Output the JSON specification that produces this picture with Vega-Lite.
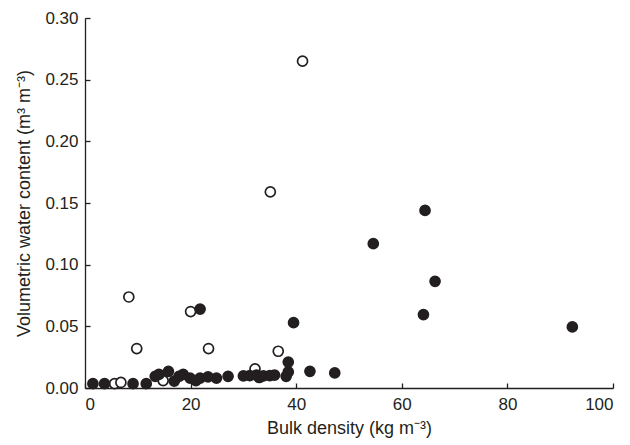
{
  "$schema": "https://vega.github.io/schema/vega-lite/v6.json",
  "autosize": {"type": "none"},
  "width": 528,
  "height": 370,
  "padding": {"left": 85, "top": 18, "right": 17, "bottom": 57},
  "background": "white",
  "config": {
    "view": {"stroke": null},
    "font": "Liberation Sans",
    "axis": {
      "grid": false,
      "domainColor": "#231f20",
      "domainWidth": 1.3,
      "tickColor": "#231f20",
      "tickWidth": 1.3,
      "tickSize": -5,
      "labelFont": "Liberation Sans",
      "labelFontSize": 17,
      "labelColor": "#231f20",
      "titleFont": "Liberation Sans",
      "titleFontSize": 18,
      "titleFontWeight": "normal",
      "titleColor": "#231f20"
    }
  },
  "data": {
    "values": [
      {"density": 1.5, "water": 0.0035, "group": "filled"},
      {"density": 3.7, "water": 0.0035, "group": "filled"},
      {"density": 9.1, "water": 0.0035, "group": "filled"},
      {"density": 11.6, "water": 0.0035, "group": "filled"},
      {"density": 13.3, "water": 0.0095, "group": "filled"},
      {"density": 14.0, "water": 0.011, "group": "filled"},
      {"density": 15.8, "water": 0.0135, "group": "filled"},
      {"density": 16.9, "water": 0.0055, "group": "filled"},
      {"density": 17.8, "water": 0.0095, "group": "filled"},
      {"density": 18.6, "water": 0.011, "group": "filled"},
      {"density": 19.9, "water": 0.008, "group": "filled"},
      {"density": 21.0, "water": 0.006, "group": "filled"},
      {"density": 21.8, "water": 0.008, "group": "filled"},
      {"density": 23.3, "water": 0.009, "group": "filled"},
      {"density": 24.9, "water": 0.008, "group": "filled"},
      {"density": 27.1, "water": 0.0095, "group": "filled"},
      {"density": 30.0, "water": 0.0098, "group": "filled"},
      {"density": 31.2, "water": 0.010, "group": "filled"},
      {"density": 32.5, "water": 0.0105, "group": "filled"},
      {"density": 33.0, "water": 0.0085, "group": "filled"},
      {"density": 33.8, "water": 0.0098, "group": "filled"},
      {"density": 35.0, "water": 0.010, "group": "filled"},
      {"density": 35.9, "water": 0.0105, "group": "filled"},
      {"density": 38.1, "water": 0.0095, "group": "filled"},
      {"density": 38.5, "water": 0.013, "group": "filled"},
      {"density": 38.5, "water": 0.021, "group": "filled"},
      {"density": 39.5, "water": 0.053, "group": "filled"},
      {"density": 42.6, "water": 0.0135, "group": "filled"},
      {"density": 47.3, "water": 0.0122, "group": "filled"},
      {"density": 21.8, "water": 0.064, "group": "filled"},
      {"density": 54.6, "water": 0.117, "group": "filled"},
      {"density": 64.4, "water": 0.144, "group": "filled"},
      {"density": 66.3, "water": 0.0865, "group": "filled"},
      {"density": 64.1, "water": 0.0595, "group": "filled"},
      {"density": 92.3, "water": 0.0495, "group": "filled"},
      {"density": 5.6, "water": 0.0035, "group": "open"},
      {"density": 6.8, "water": 0.0045, "group": "open"},
      {"density": 8.3, "water": 0.0738, "group": "open"},
      {"density": 9.8, "water": 0.032, "group": "open"},
      {"density": 14.8, "water": 0.006, "group": "open"},
      {"density": 20.0, "water": 0.062, "group": "open"},
      {"density": 23.4, "water": 0.032, "group": "open"},
      {"density": 32.2, "water": 0.0155, "group": "open"},
      {"density": 35.1, "water": 0.159, "group": "open"},
      {"density": 36.6, "water": 0.0298, "group": "open"},
      {"density": 41.2, "water": 0.265, "group": "open"}
    ]
  },
  "mark": {"type": "point", "shape": "circle", "size": 100, "strokeWidth": 1.7, "stroke": "#231f20", "opacity": 1},
  "encoding": {
    "x": {
      "field": "density", "type": "quantitative",
      "scale": {"domain": [0, 100], "nice": false, "zero": true},
      "axis": {"values": [0, 20, 40, 60, 80, 100], "title": "Bulk density (kg m⁻³)", "labelPadding": 13, "titlePadding": 7}
    },
    "y": {
      "field": "water", "type": "quantitative",
      "scale": {"domain": [0, 0.3], "nice": false},
      "axis": {"values": [0, 0.05, 0.1, 0.15, 0.2, 0.25, 0.3], "format": ".2f", "title": "Volumetric water content (m³ m⁻³)", "labelPadding": 12, "titlePadding": 11}
    },
    "fill": {
      "field": "group", "type": "nominal",
      "scale": {"domain": ["filled", "open"], "range": ["#231f20", "#ffffff"]},
      "legend": null
    },
    "order": {"field": "group", "sort": "descending"}
  }
}
